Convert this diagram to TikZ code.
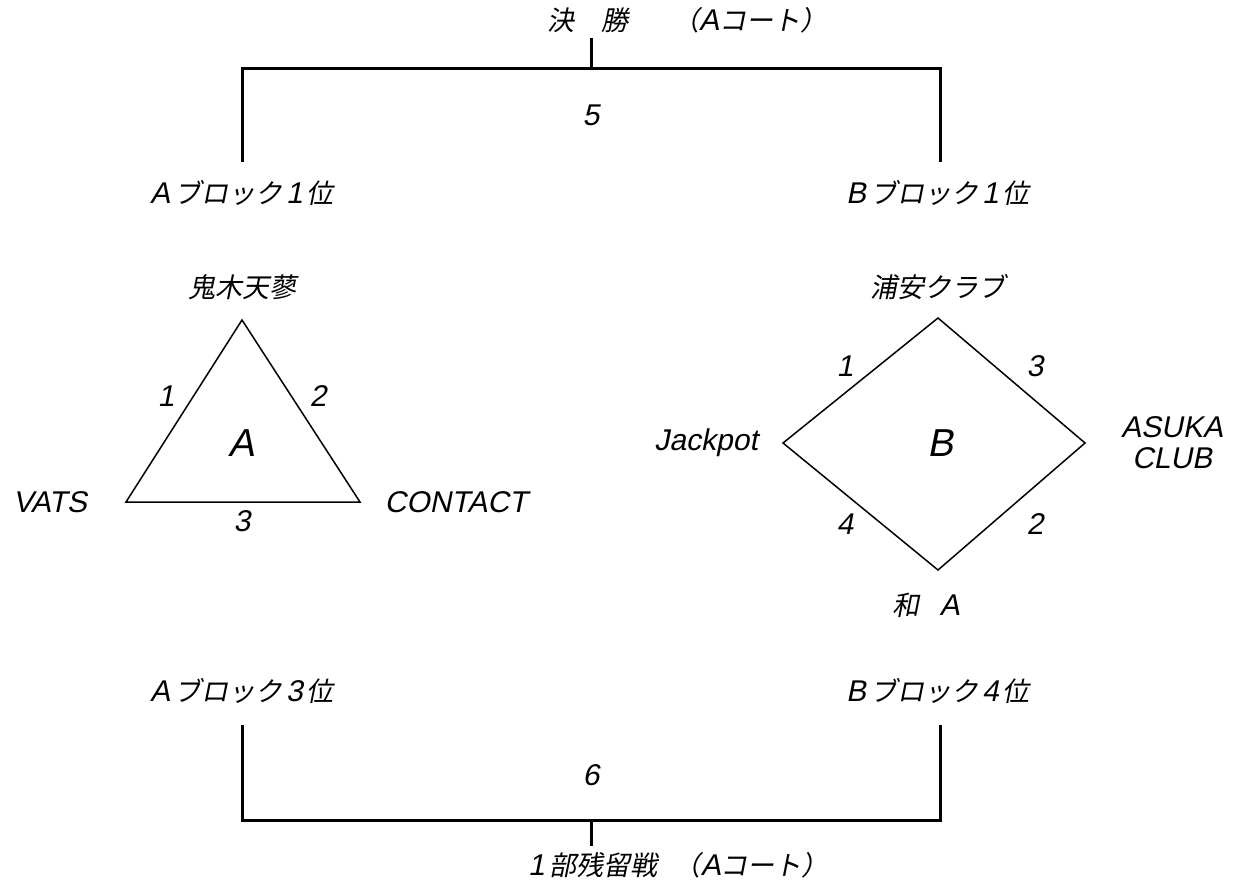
\documentclass[tikz,border=0pt]{standalone}
\usepackage{fontspec}
\setmainfont{Liberation Sans}[FakeSlant=0.2]
\newfontfamily\jp{Noto Sans CJK JP}[FakeSlant=0.2,Scale=0.9]
\begin{document}
\begin{tikzpicture}[x=1pt,y=-1pt,
  lbl/.style={inner sep=0pt,font=\fontsize{30}{33}\selectfont},
  big/.style={inner sep=0pt,font=\fontsize{39}{42}\selectfont},
  bracket/.style={line width=3pt},
  outline/.style={line width=1.5pt,line join=miter}]
\useasboundingbox (0,0) rectangle (1236,881);
% top bracket
\coordinate (tl) at (242,162);
\coordinate (tr) at (940,162);
\coordinate (tlc) at (242,68);
\coordinate (trc) at (940,68);
\coordinate (tm) at (591,68);
\coordinate (tmt) at (591,38);
\draw[bracket] (tl) -- (tlc) -- (trc) -- (tr);
\draw[bracket] (tm) -- (tmt);
\node[lbl,anchor=west] (final) at (547,20) {{\jp 決}\hspace{27pt}{\jp 勝}\hspace{44pt}{\jp （}A{\jp コート）}};
\node[lbl] (five) at (591,115) {5};
\node[lbl] (a1) at (242,193) {A\hspace{4pt}{\jp ブロック}\hspace{4pt}1\hspace{4pt}{\jp 位}};
\node[lbl] (b1) at (938,193) {B\hspace{4pt}{\jp ブロック}\hspace{4pt}1\hspace{4pt}{\jp 位}};
% triangle A
\coordinate (ta) at (242,320);
\coordinate (tb) at (126,502);
\coordinate (tc) at (360,502);
\draw[outline] (ta) -- (tb) -- (tc) -- cycle;
\node[lbl] (oniki) at (242,287) {\jp 鬼木天蓼};
\node[lbl] (e1) at (166,396) {1};
\node[lbl] (e2) at (318,396) {2};
\node[lbl] (e3) at (242,521) {3};
\node[big] (A) at (242,443) {A};
\node[lbl] (vats) at (50,502) {VATS};
\node[lbl] (contact) at (456,502) {CONTACT};
% diamond B
\coordinate (dt) at (938,318);
\coordinate (dl) at (783,443);
\coordinate (dr) at (1085,443);
\coordinate (db) at (938,570);
\draw[outline] (dt) -- (dr) -- (db) -- (dl) -- cycle;
\node[lbl] (urayasu) at (938,287) {\jp 浦安クラブ};
\node[lbl] (f1) at (845,366) {1};
\node[lbl] (f3) at (1035,366) {3};
\node[lbl] (f4) at (845,524) {4};
\node[lbl] (f2) at (1035,524) {2};
\node[big] (B) at (940,443) {B};
\node[lbl] (jack) at (706,443) {Jackpot};
\node[lbl,align=center,font=\fontsize{30}{31}\selectfont] (asuka) at (1172,443) {ASUKA\\CLUB};
\node[lbl] (wa) at (926,605) {{\jp 和}\hspace{20pt}A};
% bottom bracket
\node[lbl] (a3) at (242,691) {A\hspace{4pt}{\jp ブロック}\hspace{4pt}3\hspace{4pt}{\jp 位}};
\node[lbl] (b4) at (938,691) {B\hspace{4pt}{\jp ブロック}\hspace{4pt}4\hspace{4pt}{\jp 位}};
\coordinate (bl) at (242,725);
\coordinate (br) at (940,725);
\coordinate (blc) at (242,820);
\coordinate (brc) at (940,820);
\coordinate (bm) at (591,820);
\coordinate (bmb) at (591,846);
\draw[bracket] (bl) -- (blc) -- (brc) -- (br);
\draw[bracket] (bm) -- (bmb);
\node[lbl] (six) at (591,775) {6};
\node[lbl,anchor=west] (stay) at (528,865) {1\hspace{5pt}{\jp 部残留戦}\hspace{16pt}{\jp （}A{\jp コート）}};
\end{tikzpicture}
\end{document}
